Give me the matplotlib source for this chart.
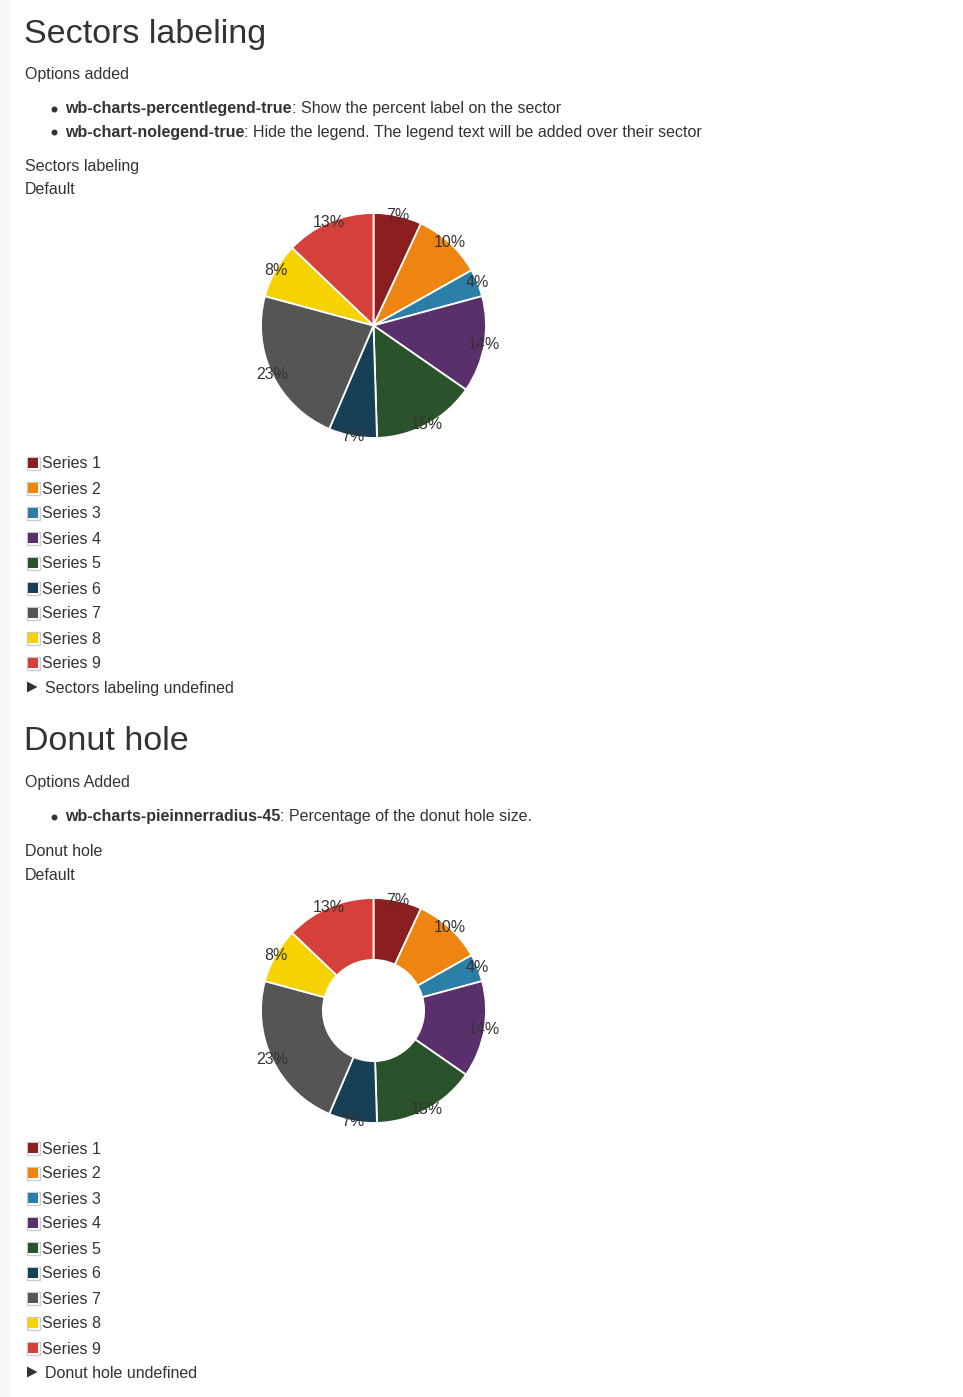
import matplotlib
matplotlib.use("Agg")
import matplotlib.pyplot as plt
from matplotlib.patches import Rectangle, Polygon

plt.rcParams['font.family'] = ['Liberation Sans', 'DejaVu Sans']

# ---- data ----
series_labels = ["Series 1", "Series 2", "Series 3", "Series 4", "Series 5",
                 "Series 6", "Series 7", "Series 8", "Series 9"]
series_values = [7, 10, 4, 14, 15, 7, 23, 8, 13]
series_colors = ["#8b1e1e", "#ef8511", "#2b7ea6", "#592f6c", "#2a532b",
                 "#173f56", "#555555", "#f5d200", "#d6403a"]
donut_inner_pct = 45

W, H = 963, 1397
DPI = 100
fig = plt.figure(figsize=(W / DPI, H / DPI), dpi=DPI)
fig.patch.set_facecolor("white")

bg = fig.add_axes([0, 0, 1, 1])
bg.set_xlim(0, W)
bg.set_ylim(H, 0)
bg.axis("off")
bg.add_patch(Rectangle((0, 0), 10, H, facecolor="#f7f7f7", edgecolor="none"))

TXT = "#333333"
BODY = 11.5
TITLE = 24.5
DY = 1.0  # small baseline correction


def text(x, y, s, size=BODY, weight="normal"):
    return bg.text(x, y + DY, s, fontsize=size, color=TXT, va="center", ha="left",
                   fontweight=weight)


renderer = fig.canvas.get_renderer()


def bullet(y, bold, rest):
    bg.plot([53.5], [y + 0.5], marker="o", markersize=3.3, color=TXT, zorder=3)
    t = text(65, y, bold, weight="bold")
    bb = t.get_window_extent(renderer)
    text(bb.x1, y, rest)


def pie(cx, cy, r, inner=None):
    ax = fig.add_axes([(cx - r) / W, 1 - (cy + r) / H, 2 * r / W, 2 * r / H])
    wp = dict(edgecolor="white", linewidth=1.3)
    if inner is not None:
        wp["width"] = 1 - inner / 100.0
    wedges, _, autotexts = ax.pie(series_values, colors=series_colors, startangle=90,
                                  counterclock=False, radius=1.0, autopct="%.0f%%",
                                  pctdistance=1.0, wedgeprops=wp)
    for t in autotexts:
        t.set_fontsize(BODY)
        t.set_color(TXT)
    ax.set_xlim(-1.0, 1.0)
    ax.set_ylim(-1.0, 1.0)
    ax.set_aspect("equal")
    ax.axis("off")


def legend(y0, footer):
    for i, (lab, col) in enumerate(zip(series_labels, series_colors)):
        y = y0 + i * 25
        bg.add_patch(Rectangle((26.5, y - 6.5), 13, 13, facecolor="white",
                               edgecolor="#cccccc", linewidth=1))
        bg.add_patch(Rectangle((28, y - 5), 10, 10, facecolor=col, edgecolor="none"))
        text(41.5, y, lab)
    yf = y0 + 9 * 25 - 1
    bg.add_patch(Polygon([(27, yf - 5.5), (27, yf + 5.5), (37.5, yf)], closed=True,
                         facecolor=TXT, edgecolor="none"))
    text(45, yf, footer)


# ---- section 1 ----
text(24, 33, "Sectors labeling", size=TITLE)
text(25, 74, "Options added")
bullet(108, "wb-charts-percentlegend-true", ": Show the percent label on the sector")
bullet(131, "wb-chart-nolegend-true",
       ": Hide the legend. The legend text will be added over their sector")
text(25, 166, "Sectors labeling")
text(25, 189, "Default")
pie(373.5, 325.5, 112.5)
legend(463, "Sectors labeling undefined")

# ---- section 2 ----
text(24, 741, "Donut hole", size=TITLE)
text(25, 782, "Options Added")
bullet(816, "wb-charts-pieinnerradius-45", ": Percentage of the donut hole size.")
text(25, 851, "Donut hole")
text(25, 874, "Default")
pie(373.5, 1010.5, 112.5, inner=donut_inner_pct)
legend(1148, "Donut hole undefined")

fig.savefig("out.png", dpi=DPI, facecolor="white")
